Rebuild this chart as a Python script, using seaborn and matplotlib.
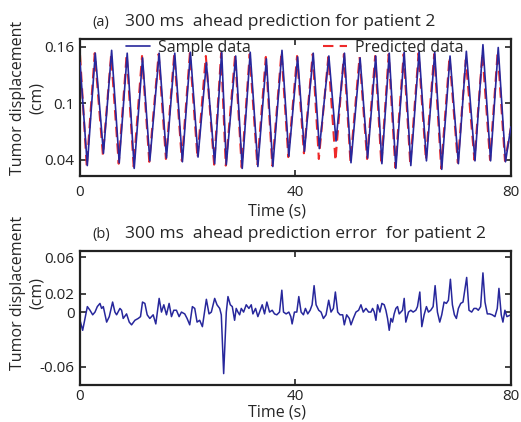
import numpy as np
import pandas as pd
import matplotlib
matplotlib.use("Agg")
import matplotlib.pyplot as plt
import seaborn as sns

sample_t = [0, 1.35, 2.83, 4.35, 5.87, 7.28, 8.76, 10.06, 11.61, 12.96, 14.69, 16.05,
            17.59, 19.01, 20.5, 21.91, 23.46, 25.0, 26.3, 27.16, 28.9, 30.12, 31.6,
            33.02, 34.6, 35.8, 37.5, 38.77, 40.4, 41.67, 43.3, 44.44, 46.2, 47.53,
            49.1, 50.31, 52.0, 53.4, 54.9, 56.05, 57.41, 58.64, 60.19, 61.42, 62.96,
            64.32, 65.86, 67.16, 68.7, 70.25, 71.73, 73.33, 74.81, 76.23, 77.65, 79.0, 80]
sample_v = [0.143, 0.034, 0.153, 0.047, 0.156, 0.037, 0.153, 0.031, 0.148, 0.039, 0.153,
            0.042, 0.153, 0.038, 0.154, 0.043, 0.143, 0.036, 0.155, 0.035, 0.150, 0.031,
            0.154, 0.033, 0.147, 0.033, 0.156, 0.044, 0.149, 0.049, 0.153, 0.052, 0.150,
            0.060, 0.153, 0.037, 0.148, 0.042, 0.150, 0.036, 0.153, 0.031, 0.154, 0.034,
            0.155, 0.039, 0.154, 0.030, 0.150, 0.036, 0.155, 0.039, 0.162, 0.039, 0.159,
            0.038, 0.075]

# 300 ms ahead prediction
pred_t = [0, 1.25, 2.73, 4.25, 5.77, 7.18, 8.66, 9.96, 11.51, 12.86, 14.59, 15.95,
          17.49, 18.91, 20.4, 21.81, 23.36, 24.9, 26.2, 27.06, 28.8, 30.02, 31.5,
          32.92, 34.5, 35.7, 37.4, 38.67, 40.3, 41.57, 43.2, 44.34, 46.1, 47.43,
          49.0, 50.21, 51.9, 53.3, 54.8, 55.95, 57.31, 58.54, 60.09, 61.32, 62.86,
          64.22, 65.76, 67.06, 68.6, 70.15, 71.63, 73.23, 74.71, 76.13, 77.55, 78.9, 80]
pred_v = [0.151, 0.033, 0.153, 0.045, 0.151, 0.036, 0.152, 0.033, 0.150, 0.038, 0.152,
          0.041, 0.152, 0.039, 0.153, 0.042, 0.150, 0.035, 0.153, 0.034, 0.151, 0.032,
          0.152, 0.034, 0.149, 0.034, 0.154, 0.043, 0.150, 0.047, 0.152, 0.041, 0.149,
          0.039, 0.152, 0.038, 0.149, 0.041, 0.150, 0.035, 0.152, 0.032, 0.152, 0.035,
          0.153, 0.040, 0.152, 0.031, 0.149, 0.037, 0.146, 0.040, 0.153, 0.040, 0.155,
          0.039, 0.074]

# prediction error
err_t = [0, 0.49, 1.36, 1.85, 2.35, 2.78, 3.21, 3.70, 4.01, 4.32, 4.94, 5.43, 6.05, 6.48,
         6.79, 7.41, 7.72, 8.02, 8.64, 9.14, 9.57, 10.19, 10.8, 11.23, 11.6, 12.04, 12.47,
         12.96, 13.58, 14.07, 14.69, 15.12, 15.56, 16.05, 16.54, 16.98, 17.41, 17.9, 18.4,
         18.83, 19.44, 19.88, 20.37, 20.86, 21.3, 21.73, 22.22, 22.72, 23.46, 23.95, 24.38,
         25.0, 25.43, 25.93, 26.23, 26.67, 27.16, 27.47, 27.9, 28.27, 28.7, 29.0, 29.32,
         29.63, 29.94, 30.37, 30.86, 31.36, 31.79, 32.1, 32.59, 33.02, 33.46, 33.83, 34.26,
         34.69, 35.19, 35.68, 36.11, 36.54, 37.04, 37.47, 37.78, 38.27, 38.77, 39.14, 39.38,
         39.81, 40.25, 40.62, 41.05, 41.48, 41.85, 42.28, 42.72, 43.09, 43.46, 43.83, 44.32,
         44.75, 45.19, 45.68, 46.17, 46.6, 47.04, 47.41, 47.84, 48.27, 48.77, 49.07, 49.51,
         50.0, 50.31, 50.74, 51.23, 51.73, 52.16, 52.59, 53.09, 53.58, 54.01, 54.32, 54.63,
         54.94, 55.25, 55.68, 56.05, 56.48, 56.79, 57.1, 57.41, 57.72, 58.02, 58.33, 58.64,
         58.95, 59.26, 59.57, 59.88, 60.19, 60.49, 60.99, 61.42, 61.85, 62.35, 62.65, 63.09,
         63.46, 63.89, 64.32, 64.69, 65.12, 65.56, 65.93, 66.36, 66.79, 67.16, 67.59, 68.02,
         68.4, 68.77, 69.14, 69.51, 69.88, 70.25, 70.68, 71.11, 71.79, 72.22, 72.72, 73.15,
         73.58, 73.95, 74.38, 74.81, 75.19, 75.62, 76.05, 76.54, 77.04, 77.47, 77.78, 78.21,
         78.52, 78.89, 79.26, 80]
err_v = [-0.009, -0.020, 0.006, 0.002, -0.003, 0.000, 0.006, 0.0095, 0.004, 0.006, -0.011,
         -0.005, 0.011, 0.000, -0.003, 0.004, 0.002, -0.007, -0.002, -0.011, -0.014, -0.009,
         -0.007, -0.005, 0.011, 0.0095, -0.003, -0.007, -0.003, -0.013, 0.015, 0.000, 0.008,
         -0.003, 0.0095, -0.005, 0.002, 0.002, -0.005, 0.000, -0.002, -0.007, -0.014, 0.006,
         0.004, -0.011, -0.009, -0.016, 0.014, -0.002, 0.000, 0.015, 0.008, 0.004, -0.003,
         -0.0675, 0.000, 0.017, 0.008, 0.006, -0.009, 0.004, 0.000, -0.003, 0.004, 0.000,
         0.008, 0.004, 0.008, -0.002, 0.004, -0.005, 0.002, 0.008, -0.002, 0.011, 0.000,
         0.002, -0.002, -0.003, 0.000, 0.024, 0.000, -0.002, 0.000, -0.005, -0.013, 0.000,
         0.000, 0.017, 0.000, -0.003, 0.004, -0.002, 0.002, 0.008, 0.029, 0.008, 0.002,
         0.000, -0.007, -0.003, 0.013, 0.000, 0.004, 0.022, 0.000, -0.003, -0.003, -0.014,
         -0.003, -0.007, -0.014, -0.007, 0.000, 0.002, 0.008, 0.000, 0.004, 0.000, 0.000,
         0.004, 0.000, -0.009, 0.008, 0.000, 0.0095, 0.008, 0.002, -0.007, -0.020, -0.007,
         -0.011, -0.002, 0.004, 0.006, -0.002, 0.000, 0.002, 0.015, -0.011, 0.000, 0.002,
         0.000, 0.002, 0.006, 0.022, -0.016, -0.003, 0.006, 0.000, 0.002, 0.006, 0.029,
         0.000, -0.011, -0.003, 0.011, 0.0095, 0.013, 0.036, 0.008, -0.003, -0.007, 0.004,
         0.0095, 0.011, 0.038, 0.002, 0.000, 0.004, 0.004, 0.002, 0.006, 0.043, 0.011,
         -0.002, -0.002, -0.003, -0.005, 0.004, 0.026, -0.003, -0.011, 0.002, -0.005, -0.003]

x_ticks = [0, 40, 80]
top_yticks = [0.04, 0.1, 0.16]
top_ylabels = ["0.04", "0.1", "0.16"]
bot_yticks = [-0.06, 0, 0.02, 0.06]
bot_ylabels = ["-0.06", "0", "0.02", "0.06"]

sns.set_style("ticks")
plt.rcParams["font.family"] = ["Open Sans", "DejaVu Sans"]

blue = "#27279c"
red = "#ee2a2a"

sample_df = pd.DataFrame({"t": sample_t, "v": sample_v})
pred_df = pd.DataFrame({"t": pred_t, "v": pred_v})
err_df = pd.DataFrame({"t": err_t, "v": err_v})

fig = plt.figure(figsize=(5.21, 4.22), dpi=100)
ax1 = fig.add_axes([0.1536, 0.583, 0.827, 0.3246])
ax2 = fig.add_axes([0.1536, 0.0877, 0.827, 0.3175])

sns.lineplot(data=sample_df, x="t", y="v", ax=ax1, color=blue, lw=1.2,
             label="Sample data", zorder=3)
sns.lineplot(data=pred_df, x="t", y="v", ax=ax1, color=red, lw=1.5,
             label="Predicted data", zorder=2)
ax1.lines[1].set_dashes((5, 3))
sns.lineplot(data=err_df, x="t", y="v", ax=ax2, color=blue, lw=1.1)

ax1.set_ylim(0.023, 0.168)
ax2.set_ylim(-0.08, 0.067)

for ax, yt, yl in [(ax1, top_yticks, top_ylabels), (ax2, bot_yticks, bot_ylabels)]:
    ax.set_xlim(0, 80)
    ax.set_xticks(x_ticks)
    ax.set_xticklabels([str(v) for v in x_ticks])
    ax.set_yticks(yt)
    ax.set_yticklabels(yl)
    ax.tick_params(direction="in", top=True, right=True, length=4, width=1.2,
                   labelsize=11, pad=4, colors="#222222")
    for s in ax.spines.values():
        s.set_linewidth(1.6)
        s.set_color("#222222")
    ax.set_xlabel("Time (s)", fontsize=11.5)
    ax.set_ylabel("Tumor displacement\n(cm)", fontsize=11.5, linespacing=1.2)

ax1.tick_params(axis="x", pad=6.5)
ax2.tick_params(axis="x", pad=3)
ax1.xaxis.set_label_coords(0.457, -0.2)
ax2.xaxis.set_label_coords(0.457, -0.148)
ax1.yaxis.set_label_coords(-0.082, 0.57)
ax2.yaxis.set_label_coords(-0.082, 0.69)

ax1.legend(ncol=2, frameon=False, loc="upper left", bbox_to_anchor=(0.107, 0.995),
           borderpad=0, borderaxespad=0, handlelength=1.5, handletextpad=0.5,
           columnspacing=4.5, fontsize=11.5)
ax1.get_legend().get_lines()[1].set_dashes((5, 3))

fig.text(0.178, 0.947, "(a)", fontsize=10.5, va="center")
fig.text(0.24, 0.947, "300 ms  ahead prediction for patient 2", fontsize=12.5, va="center")
fig.text(0.178, 0.445, "(b)", fontsize=10.5, va="center")
fig.text(0.24, 0.445, "300 ms  ahead prediction error  for patient 2", fontsize=12.5, va="center")

fig.savefig("out.png", dpi=100)
